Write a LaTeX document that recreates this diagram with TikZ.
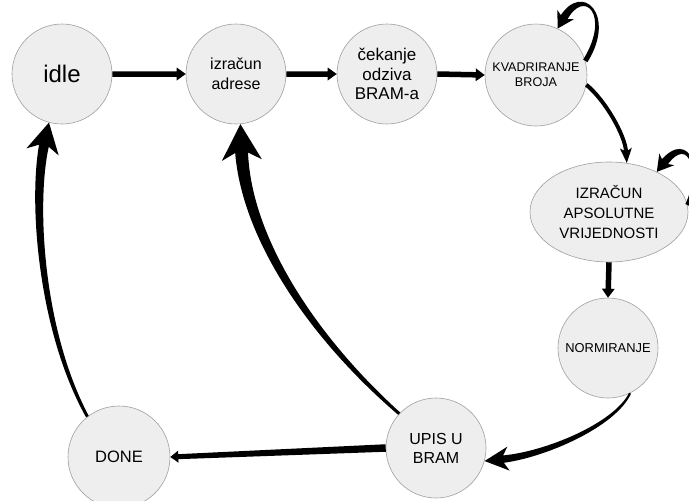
\documentclass[tikz,border=0pt]{standalone}
\usepackage{fontspec}
\setmainfont{Liberation Sans}
\usetikzlibrary{calc,shapes.geometric}
% tapered arrow: #1 start, #2 ctrl1, #3 ctrl2, #4 tip, #5 start width, #6 end width, #7 head length, #8 head width, #9 notch factor
\newcommand\tarrow[9]{%
\fill[black] let \p1=(#1), \p2=(#2), \p3=(#3), \p4=(#4),
  \n1={atan2(\y2-\y1,\x2-\x1)}, \n2={atan2(\y4-\y3,\x4-\x3)},
  \n5={atan2(\y3-\y1,\x3-\x1)}, \n6={atan2(\y4-\y2,\x4-\x2)},
  \n3={#5/2}, \n4={#6/2}, \n7={(2*#5+#6)/6}, \n8={(#5+2*#6)/6} in
  ({\x1+\n3*cos(\n1+90)},{\y1+\n3*sin(\n1+90)})
  .. controls ({\x2+\n7*cos(\n5+90)},{\y2+\n7*sin(\n5+90)})
  and ({\x3+\n8*cos(\n6+90)},{\y3+\n8*sin(\n6+90)})
  .. ({\x4-#9*#7*cos(\n2)+\n4*cos(\n2+90)},{\y4-#9*#7*sin(\n2)+\n4*sin(\n2+90)})
  -- ({\x4-#9*#7*cos(\n2)-\n4*cos(\n2+90)},{\y4-#9*#7*sin(\n2)-\n4*sin(\n2+90)})
  .. controls ({\x3-\n8*cos(\n6+90)},{\y3-\n8*sin(\n6+90)})
  and ({\x2-\n7*cos(\n5+90)},{\y2-\n7*sin(\n5+90)})
  .. ({\x1-\n3*cos(\n1+90)},{\y1-\n3*sin(\n1+90)}) -- cycle
  ({\x4},{\y4})
  -- ({\x4-#7*cos(\n2)-#8/2*cos(\n2+90)},{\y4-#7*sin(\n2)-#8/2*sin(\n2+90)})
  -- ({\x4-#9*#7*cos(\n2)},{\y4-#9*#7*sin(\n2)})
  -- ({\x4-#7*cos(\n2)+#8/2*cos(\n2+90)},{\y4-#7*sin(\n2)+#8/2*sin(\n2+90)}) -- cycle;
}
\tikzset{
  st/.style={circle, draw=gray!75, line width=0.6pt, fill=gray!13, minimum size=100pt, inner sep=0pt, align=center},
  stell/.style={ellipse, draw=gray!75, line width=0.6pt, fill=gray!13, minimum width=158pt, minimum height=100pt, inner sep=0pt, align=center},
}
\begin{document}
\begin{tikzpicture}[x=1pt,y=1pt]
\useasboundingbox (0,0) rectangle (689,-501);
\clip (0,0) rectangle (689,-501);
\fill[white] (0,0) rectangle (689,-501);

\node[st, font=\fontsize{24}{28}\selectfont] (idle) at (62,-74) {idle};
\node[st, font=\fontsize{16}{20}\selectfont] (izr) at (236,-74) {izračun\\adrese};
\node[st, font=\fontsize{17}{19.5}\selectfont] (cek) at (387,-74) {čekanje\\odziva\\BRAM-a};
\node[st, minimum size=102pt, font=\fontsize{12.6}{15}\selectfont] (kv) at (536,-75) {KVADRIRANJE\\BROJA};
\node[stell, font=\fontsize{15}{20}\selectfont] (abs) at (609,-212) {IZRAČUN\\APSOLUTNE\\VRIJEDNOSTI};
\node[st, font=\fontsize{12.9}{15}\selectfont] (norm) at (608,-348) {NORMIRANJE};
\node[st, font=\fontsize{16}{19}\selectfont] (upis) at (436,-448) {UPIS U\\BRAM};
\node[st, minimum size=102pt, font=\fontsize{16.5}{19}\selectfont] (done) at (119,-457) {DONE};

% straight arrows
\tarrow{idle.east}{$(idle.east)!.33!(izr.west)$}{$(idle.east)!.66!(izr.west)$}{izr.west}{5.5}{5.5}{9}{13}{1}
\tarrow{izr.east}{$(izr.east)!.33!(cek.west)$}{$(izr.east)!.66!(cek.west)$}{cek.west}{5.5}{5.5}{9}{13}{1}
\tarrow{cek.east}{$(cek.east)!.33!(kv.west)$}{$(cek.east)!.66!(kv.west)$}{kv.west}{5.5}{5.5}{9}{13}{1}
\tarrow{abs.south}{$(abs.south)!.33!(norm.north)$}{$(abs.south)!.66!(norm.north)$}{norm.north}{5.5}{5.5}{9}{13}{1}
\tarrow{upis.west}{$(upis.west)!.33!(done.east)$}{$(upis.west)!.66!(done.east)$}{done.east}{7.5}{5}{8}{12}{1}

% curved arrows
\tarrow{done.128}{40,-330}{32,-200}{idle.255}{3}{10}{30}{33}{0.7}
\tarrow{upis.137}{310,-335}{245,-235}{izr.275}{3}{13}{36}{40}{0.7}
\tarrow{norm.296}{615,-425}{545,-455}{upis.345}{2}{7.5}{24}{24}{0.7}
\tarrow{kv.349}{605,-100}{625,-135}{abs.70}{4}{4}{15}{12}{0.75}
\tarrow{kv.16}{614,-15}{583,16}{kv.65}{5}{8}{16}{19}{0.7}
\tarrow{abs.5}{703,-175}{690,-130}{abs.40}{5}{8}{16}{19}{0.7}
\end{tikzpicture}
\end{document}
